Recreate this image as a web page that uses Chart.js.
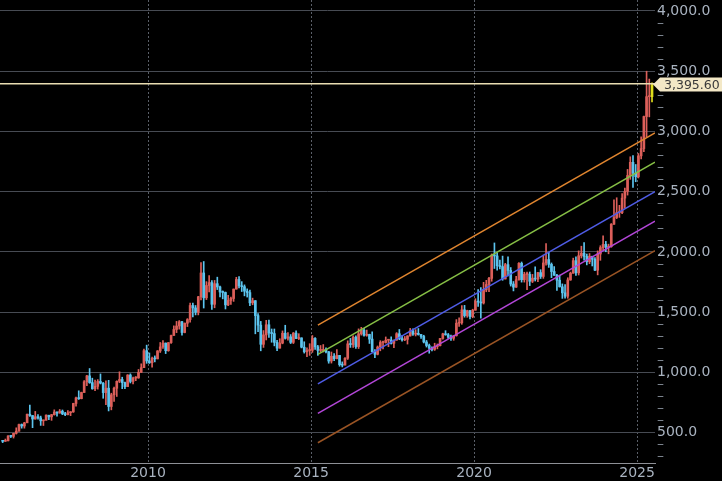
<!DOCTYPE html>
<html>
<head>
<meta charset="utf-8">
<script src="https://cdn.jsdelivr.net/npm/chart.js@4.4.1/dist/chart.umd.min.js"></script>
<style>
  html, body { margin: 0; padding: 0; background: #000; }
</style>
</head>
<body>
<canvas id="goldChart" width="722" height="481"></canvas>
<script>
// monthly candles, Jul 2005 .. Jun 2025 (open = previous close)
const firstYear = 2005;
const firstMonth = 6; // July
const firstOpen = 434;

const closes = [
  429, 433, 473, 470, 495, 513,
  568, 556, 582, 654, 643, 614, 633, 623, 599, 604, 646, 632,
  650, 672, 663, 679, 657, 650, 666, 673, 743, 789, 783, 834,
  923, 972, 916, 865, 885, 926, 912, 833, 870, 718, 815, 869,
  927, 942, 916, 883, 979, 926, 954, 955, 1001, 1040, 1181, 1096,
  1081, 1118, 1113, 1179, 1212, 1244, 1181, 1248, 1307, 1357, 1386, 1421,
  1332, 1409, 1439, 1556, 1536, 1500, 1628, 1826, 1620, 1722, 1746, 1566,
  1737, 1710, 1668, 1664, 1561, 1598, 1614, 1692, 1772, 1719, 1712, 1675,
  1663, 1578, 1596, 1472, 1393, 1234, 1312, 1396, 1327, 1323, 1250, 1202,
  1244, 1326, 1284, 1296, 1250, 1327, 1282, 1287, 1210, 1172, 1182, 1184,
  1283, 1213, 1183, 1183, 1190, 1172, 1095, 1135, 1115, 1142, 1065, 1061,
  1118, 1238, 1232, 1293, 1215, 1321, 1351, 1309, 1316, 1277, 1173, 1151,
  1211, 1249, 1249, 1268, 1269, 1242, 1269, 1322, 1280, 1271, 1275, 1303,
  1345, 1318, 1325, 1315, 1299, 1253, 1224, 1201, 1192, 1215, 1222, 1282,
  1321, 1313, 1292, 1284, 1305, 1409, 1413, 1520, 1472, 1513, 1464, 1517,
  1589, 1585, 1577, 1686, 1730, 1781, 1975, 1967, 1886, 1879, 1776, 1895,
  1847, 1734, 1708, 1769, 1906, 1770, 1814, 1814, 1757, 1783, 1775, 1829,
  1797, 1909, 1937, 1897, 1838, 1807, 1766, 1711, 1661, 1633, 1768, 1824,
  1928, 1827, 1969, 1990, 1963, 1919, 1965, 1940, 1849, 1983, 2036, 2063,
  2040, 2044, 2230, 2286, 2327, 2327, 2447, 2503, 2635, 2744, 2654, 2625,
  2798, 2858, 3124, 3289, 3289, 3395.6
];
const highs = [
  437, 448, 476, 477, 497, 541,
  571, 573, 587, 655, 730, 643, 677, 651, 638, 605, 648, 640,
  653, 690, 673, 693, 689, 670, 683, 675, 745, 795, 848, 837,
  933, 976, 1033, 953, 937, 941, 988, 917, 930, 935, 828, 880,
  931, 1006, 961, 920, 982, 989, 962, 966, 1025, 1072, 1195, 1227,
  1162, 1128, 1138, 1182, 1249, 1265, 1245, 1249, 1310, 1387, 1424, 1431,
  1424, 1411, 1447, 1575, 1577, 1556, 1632, 1912, 1921, 1754, 1804, 1763,
  1764, 1791, 1718, 1677, 1668, 1640, 1625, 1693, 1790, 1796, 1754, 1727,
  1694, 1683, 1617, 1597, 1488, 1424, 1348, 1433, 1434, 1361, 1361, 1267,
  1280, 1345, 1392, 1331, 1315, 1332, 1345, 1322, 1288, 1255, 1205, 1239,
  1307, 1290, 1225, 1224, 1232, 1205, 1175, 1170, 1157, 1191, 1142, 1088,
  1124, 1263, 1283, 1305, 1304, 1362, 1375, 1367, 1352, 1318, 1337, 1191,
  1220, 1264, 1261, 1295, 1272, 1296, 1270, 1331, 1357, 1306, 1299, 1306,
  1366, 1362, 1356, 1365, 1317, 1309, 1266, 1236, 1214, 1243, 1237, 1284,
  1326, 1347, 1324, 1310, 1306, 1439, 1453, 1555, 1557, 1517, 1516, 1525,
  1612, 1689, 1704, 1748, 1765, 1789, 1984, 2075, 1992, 1933, 1966, 1906,
  1959, 1871, 1755, 1798, 1913, 1917, 1832, 1834, 1834, 1814, 1877, 1831,
  1853, 1974, 2070, 1998, 1909, 1879, 1814, 1808, 1735, 1729, 1786, 1833,
  1949, 1960, 2009, 2048, 2079, 1983, 1987, 1949, 1953, 2009, 2052, 2135,
  2088, 2065, 2236, 2432, 2450, 2387, 2484, 2531, 2685, 2790, 2801, 2726,
  2817, 2956, 3128, 3500, 3435, 3403
];
const lows = [
  418, 428, 433, 460, 456, 489,
  513, 538, 538, 583, 636, 542, 612, 612, 561, 560, 604, 608,
  603, 646, 637, 663, 650, 641, 648, 642, 669, 720, 776, 781,
  834, 891, 910, 861, 850, 862, 905, 786, 734, 681, 690, 760,
  801, 916, 866, 866, 883, 913, 905, 932, 952, 1000, 1040, 1076,
  1075, 1045, 1088, 1113, 1166, 1199, 1157, 1176, 1242, 1308, 1331, 1360,
  1309, 1329, 1381, 1418, 1462, 1478, 1478, 1603, 1535, 1605, 1669, 1523,
  1537, 1688, 1627, 1611, 1527, 1554, 1564, 1590, 1692, 1702, 1672, 1636,
  1626, 1555, 1562, 1321, 1338, 1180, 1208, 1270, 1292, 1251, 1221, 1182,
  1202, 1238, 1277, 1268, 1240, 1240, 1281, 1273, 1204, 1161, 1131, 1142,
  1167, 1191, 1142, 1170, 1170, 1162, 1077, 1078, 1098, 1112, 1052, 1046,
  1062, 1108, 1208, 1208, 1200, 1199, 1310, 1302, 1301, 1241, 1171, 1123,
  1146, 1180, 1195, 1244, 1214, 1236, 1205, 1267, 1272, 1260, 1264, 1236,
  1302, 1307, 1303, 1310, 1282, 1245, 1211, 1160, 1180, 1183, 1196, 1221,
  1276, 1309, 1281, 1266, 1267, 1302, 1382, 1400, 1459, 1458, 1445, 1454,
  1517, 1548, 1451, 1568, 1670, 1671, 1757, 1863, 1849, 1860, 1765, 1776,
  1802, 1717, 1677, 1706, 1766, 1750, 1750, 1688, 1721, 1746, 1759, 1753,
  1780, 1781, 1890, 1872, 1787, 1805, 1681, 1709, 1615, 1617, 1616, 1765,
  1823, 1805, 1809, 1950, 1932, 1893, 1903, 1884, 1846, 1810, 1931, 2016,
  2002, 1985, 2039, 2229, 2277, 2287, 2318, 2364, 2472, 2603, 2536, 2583,
  2614, 2772, 2833, 2957, 3121, 3245
];

// regression channel (top to bottom)
const channelFrom = 2015.21;
const channelTo = 2025.55;
const channelStart = [1393, 1150, 905, 660, 417];
const channelEnd = [2988, 2745, 2500, 2255, 2012];
const channelColors = ['#e0852f', '#86bf45', '#4f5ce6', '#b346d8', '#9a5424'];

const lastPrice = 3395.60;
const yearTicks = [2010, 2015, 2020, 2025];
const xMin = 2005.46, xMax = 2025.55;
const yMin = 249, yMax = 4091;

const upColor = '#dc5f5a';
const downColor = '#5cc4ee';
const lastColor = '#dede1c';

const opens = closes.map((c, i) => i === 0 ? firstOpen : closes[i - 1]);
const monthX = i => firstYear + (firstMonth + i + 0.5) / 12;
const candleColor = i => i === closes.length - 1 ? lastColor : (closes[i] >= opens[i] ? upColor : downColor);

const wickData = closes.map((c, i) => ({ x: monthX(i), y: [lows[i], highs[i]] }));
const bodyData = closes.map((c, i) => ({ x: monthX(i), y: [opens[i], closes[i]] }));
const colors = closes.map((c, i) => candleColor(i));

const channelSets = channelStart.map((s, k) => ({
  type: 'line',
  data: [{ x: channelFrom, y: s }, { x: channelTo, y: channelEnd[k] }],
  borderColor: channelColors[k],
  borderWidth: 1.5,
  pointRadius: 0,
  fill: false,
  order: 0
}));

const priceTag = {
  id: 'priceTag',
  afterDraw(chart) {
    const ctx = chart.ctx;
    const y = Math.round(chart.scales.y.getPixelForValue(lastPrice)) + 0.5;
    const x0 = chart.chartArea.right - 2;
    ctx.save();
    ctx.fillStyle = '#f3e8c6';
    ctx.beginPath();
    ctx.moveTo(x0, y);
    ctx.lineTo(x0 + 7, y - 7);
    ctx.lineTo(722, y - 7);
    ctx.lineTo(722, y + 7);
    ctx.lineTo(x0 + 7, y + 7);
    ctx.closePath();
    ctx.fill();
    ctx.fillStyle = '#3a3a3a';
    ctx.font = '12.5px "DejaVu Sans"';
    ctx.textBaseline = 'middle';
    ctx.textAlign = 'left';
    ctx.fillText(lastPrice.toLocaleString('en-US', { minimumFractionDigits: 2 }), x0 + 11, y + 1);
    ctx.restore();
  }
};

Chart.defaults.font.family = '"DejaVu Sans"';
Chart.defaults.font.size = 14;

new Chart(document.getElementById('goldChart'), {
  type: 'bar',
  data: {
    datasets: [
      ...channelSets,
      {
        type: 'line',
        data: [{ x: xMin, y: lastPrice }, { x: xMax, y: lastPrice }],
        borderColor: '#e9ddb2',
        borderWidth: 1.5,
        pointRadius: 0,
        fill: false,
        order: 0
      },
      {
        type: 'bar',
        data: bodyData,
        backgroundColor: colors,
        borderWidth: 0,
        barThickness: 2,
        minBarLength: 1,
        grouped: false,
        order: 1
      },
      {
        type: 'bar',
        data: wickData,
        backgroundColor: colors,
        borderWidth: 0,
        barThickness: 1,
        grouped: false,
        order: 2
      }
    ]
  },
  options: {
    responsive: false,
    animation: false,
    layout: { padding: 0 },
    plugins: { legend: { display: false }, tooltip: { enabled: false } },
    scales: {
      x: {
        type: 'linear',
        min: xMin,
        max: xMax,
        offset: false,
        afterBuildTicks: scale => { scale.ticks = yearTicks.map(v => ({ value: v })); },
        afterFit: scale => { scale.height = 18; scale.paddingLeft = 0; scale.paddingRight = 0; },
        grid: { color: '#5a5f68', offset: false, drawTicks: false },
        border: { display: true, color: '#8e9096', width: 1, dash: [2, 2] },
        ticks: {
          color: '#a9b3c0',
          padding: 2,
          maxRotation: 0,
          autoSkip: false,
          callback: v => String(v)
        }
      },
      y: {
        position: 'right',
        min: yMin,
        max: yMax,
        afterBuildTicks: scale => {
          const t = [];
          for (let v = 300; v <= 4000; v += 100) t.push({ value: v });
          scale.ticks = t;
        },
        afterFit: scale => { scale.width = 67; scale.paddingTop = 0; scale.paddingBottom = 0; },
        grid: {
          drawTicks: false,
          color: c => (c.tick && c.tick.value % 500 === 0) ? '#474b53' : 'rgba(0,0,0,0)'
        },
        border: { display: false },
        ticks: {
          padding: 2,
          autoSkip: false,
          color: c => (c.tick && c.tick.value % 500 === 0) ? '#a9b3c0' : '#7b838e',
          callback: v => v % 500 === 0 ? v.toLocaleString('en-US', { minimumFractionDigits: 1 }) : '–'
        }
      }
    }
  },
  plugins: [priceTag]
});
</script>
</body>
</html>
